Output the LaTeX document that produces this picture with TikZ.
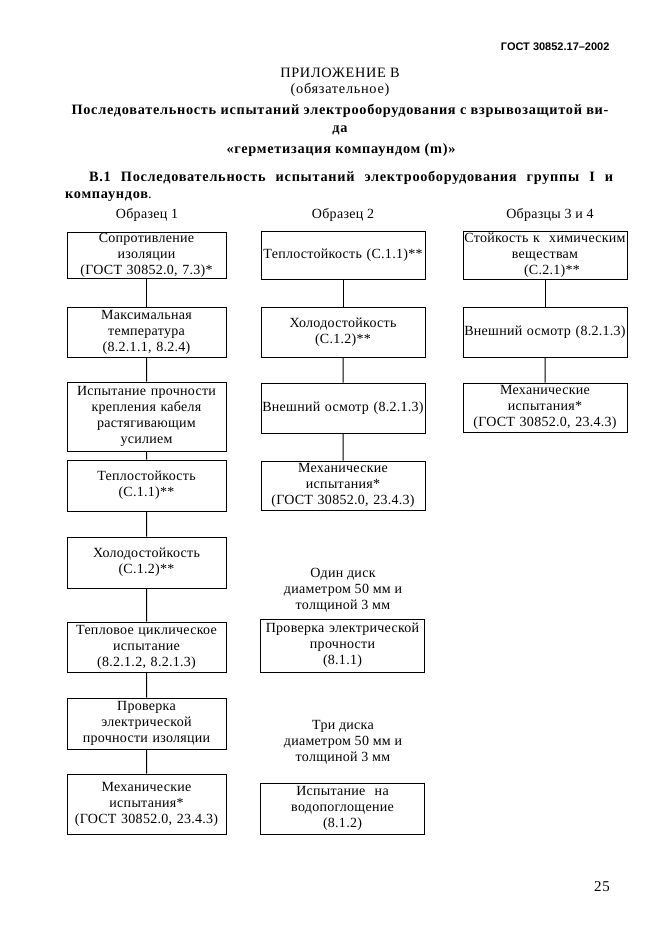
\documentclass[tikz,border=0pt]{standalone}
\usepackage{fontspec}
\setmainfont{Liberation Serif}
\newfontfamily\gostfont{Liberation Sans}
\newfontfamily\spacedfont[LetterSpace=2]{Liberation Serif}
\newfontfamily\widefont[LetterSpace=5]{Liberation Serif}
\newcommand\boxfont{\spacedfont\fontsize{14}{16}\selectfont}
\newcommand\headfont{\widefont\fontsize{14.3}{16}\selectfont}
\newcommand\oneline[1]{\makebox[160pt]{#1}}

\begin{document}
\begin{tikzpicture}
[
    x=1pt, y=-1pt,
    font=\boxfont,
    level/.style={level distance=77pt},
    box/.style={draw, line width=1pt, align=center, inner xsep=2pt, inner ysep=0.5pt},
    col1/.style={box, text width=155pt},
    col2/.style={box, text width=160pt},
    edge from parent/.style={draw, line width=1pt},
    note/.style={align=center, inner sep=1pt},
]
\useasboundingbox (0,0) rectangle (661,936);

\node[anchor=east, font=\gostfont\bfseries\fontsize{11}{12}\selectfont] (gost) at (613,47) {ГОСТ 30852.17–2002};
\node[font=\headfont] (pril) at (340,73) {ПРИЛОЖЕНИЕ В};
\node[font=\headfont] (obyaz) at (340,90) {(обязательное)};
\node[font=\headfont\bfseries] (zag1) at (340,111)
{Последовательность испытаний электрооборудования с взрывозащитой ви-};
\node[font=\headfont\bfseries] (zag2) at (340,130) {да};
\node[font=\headfont\bfseries] (zag3) at (341,150) {«герметизация компаундом (m)»};
\node[font=\headfont\bfseries, anchor=west, inner sep=0pt] (razd1) at (89,178)
{\makebox[524pt][s]{В.1 Последовательность испытаний электрооборудования группы I и}};
\node[font=\headfont, anchor=west, inner sep=0pt] (razd2) at (65,197) {\textbf{компаундов}.};

\node[note] (obr1) at (147,215) {Образец 1};
\node[note] (obr2) at (343,215) {Образец 2};
\node[note] (obr34) at (550,215) {Образцы 3 и 4};

\node[col1, minimum height=46pt] (obr1a) at (146.5,255)
{Сопротивление\\изоляции\\(ГОСТ 30852.0, 7.3)*}
    child {node[col1, minimum height=50pt] (obr1b)
{Максимальная\\температура\\(8.2.1.1, 8.2.4)}
    child[level distance=84.5pt] {node[col1, minimum height=69pt] (obr1c)
{Испытание прочности\\крепления кабеля\\растягивающим\\усилием}
    child[level distance=69pt] {node[col1, minimum height=51pt] (obr1d)
{Теплостойкость\\(С.1.1)**}
    child {node[col1, minimum height=51pt] (obr1e)
{Холодостойкость\\(С.1.2)**}
    child[level distance=84.5pt] {node[col1, minimum height=50pt] (obr1f)
{Тепловое циклическое\\испытание\\(8.2.1.2, 8.2.1.3)}
    child[level distance=76.5pt] {node[col1, minimum height=51pt] (obr1g)
{Проверка\\электрической\\прочности изоляции}
    child[level distance=80.5pt] {node[col1, minimum height=60pt] (obr1h)
{Механические\\испытания*\\(ГОСТ 30852.0, 23.4.3)}
}}}}}}};

\node[col2, minimum height=48pt] (obr2a) at (343,255)
{\oneline{Теплостойкость (С.1.1)**}}
    child {node[col2, minimum height=50pt] (obr2b)
{Холодостойкость\\(С.1.2)**}
    child[level distance=76pt] {node[col2, minimum height=50pt] (obr2c)
{\oneline{Внешний осмотр (8.2.1.3)}}
    child[level distance=77.5pt] {node[col2, minimum height=49pt] (obr2d)
{Механические\\испытания*\\(ГОСТ 30852.0, 23.4.3)}
}}};

\node[note] (odin) at (343,590) {Один диск\\диаметром 50 мм и\\толщиной 3 мм};
\node[col2, minimum height=53pt] (disk1) at (342.5,645.5)
{\oneline{Проверка электрической}\\прочности\\(8.1.1)};
\node[note] (tri) at (343,742) {Три диска\\диаметром 50 мм и\\толщиной 3 мм};
\node[col2, minimum height=51pt] (disk3) at (342.5,808.5)
{Испытание\ \ на\\водопоглощение\\(8.1.2)};

\node[col2, minimum height=48pt] (obr3a) at (545,255)
{\oneline{Стойкость к\ \ химическим}\\веществам\\\hspace*{14pt}(С.2.1)**}
    child {node[col2, minimum height=50pt] (obr3b)
{\oneline{Внешний осмотр (8.2.1.3)}}
    child[level distance=75.5pt] {node[col2, minimum height=49pt] (obr3c)
{Механические\\испытания*\\(ГОСТ 30852.0, 23.4.3)}
}};

\node[font=\widefont\fontsize{15}{16}\selectfont] (page) at (602,887) {25};
\end{tikzpicture}
\end{document}
